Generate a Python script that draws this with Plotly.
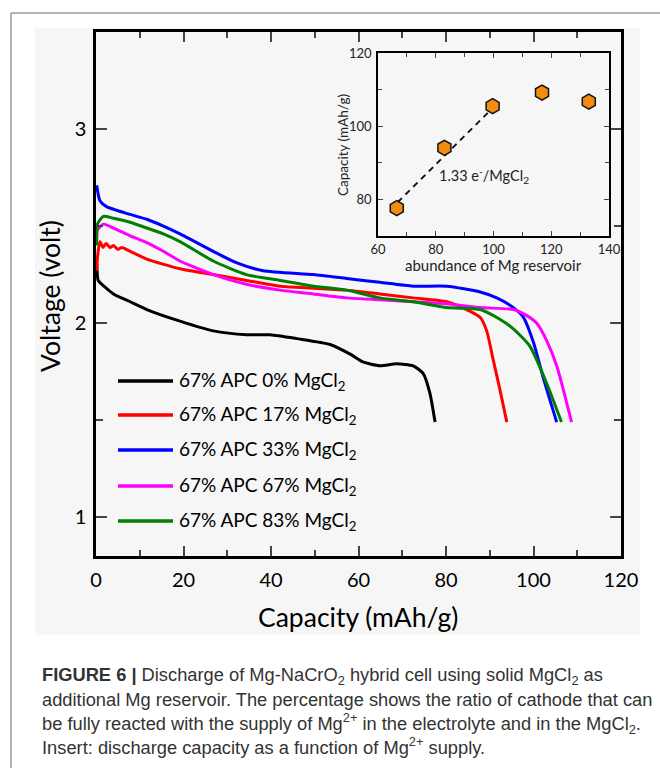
import plotly.graph_objects as go

W, H = 660, 769

# ---------------- data ----------------
series_names = ["67% APC 0% MgCl<sub>2</sub>", "67% APC 17% MgCl<sub>2</sub>",
                "67% APC 33% MgCl<sub>2</sub>", "67% APC 67% MgCl<sub>2</sub>",
                "67% APC 83% MgCl<sub>2</sub>"]
series_colors = ["#000000", "#ff0000", "#0000ff", "#ff00ff", "#008000"]

cap_0 = [0.16, 0.34, 0.5, 4.0, 7.8, 11.6, 19.2, 26.8, 34.4, 39.8, 45.9, 53.5, 58.1, 61.0,
         64.9, 68.7, 72.5, 74.8, 76.3, 77.5]
v_0 = [2.31, 2.24, 2.22, 2.15, 2.11, 2.07, 2.01, 1.96, 1.94, 1.94, 1.92, 1.89, 1.84, 1.80,
       1.78, 1.79, 1.78, 1.74, 1.64, 1.49]

cap_17 = [0.16, 0.34, 0.9, 1.6, 2.3, 3.2, 4.0, 5.0, 5.9, 7.8, 11.6, 19.2, 26.8, 34.4, 42.1,
          49.7, 57.3, 64.9, 72.5, 80.2, 84.7, 87.8, 89.3, 90.8, 92.3, 93.9]
v_17 = [2.27, 2.34, 2.42, 2.39, 2.41, 2.39, 2.40, 2.38, 2.39, 2.37, 2.33, 2.28, 2.25, 2.22, 2.19,
        2.18, 2.17, 2.15, 2.13, 2.11, 2.07, 2.03, 1.96, 1.81, 1.66, 1.49]

cap_33 = [0.16, 0.9, 2.4, 7.8, 11.6, 15.4, 19.2, 26.8, 32.2, 38.2, 49.7, 57.3, 64.9, 72.5,
          80.2, 87.8, 91.6, 95.4, 97.7, 100.0, 102.2, 105.3]
v_33 = [2.71, 2.63, 2.60, 2.56, 2.535, 2.50, 2.46, 2.37, 2.31, 2.27, 2.25, 2.23, 2.21, 2.19,
        2.19, 2.16, 2.13, 2.08, 2.03, 1.90, 1.72, 1.49]

cap_67 = [0.16, 0.34, 1.7, 4.0, 7.8, 11.6, 15.4, 19.2, 26.8, 34.4, 42.1, 49.7, 57.3, 64.9,
          72.5, 80.2, 87.8, 95.4, 98.4, 100.7, 103.0, 105.3, 108.7]
v_67 = [2.43, 2.48, 2.51, 2.49, 2.45, 2.415, 2.37, 2.32, 2.25, 2.20, 2.17, 2.15, 2.13, 2.12,
        2.11, 2.10, 2.08, 2.07, 2.04, 2.00, 1.91, 1.78, 1.49]

cap_83 = [0.16, 0.34, 1.7, 4.0, 7.8, 11.6, 15.4, 19.2, 26.8, 34.4, 42.1, 49.7, 57.3, 64.9,
          72.5, 80.2, 87.8, 92.3, 95.4, 99.2, 103.0, 106.4]
v_83 = [2.40, 2.51, 2.55, 2.54, 2.52, 2.49, 2.46, 2.42, 2.32, 2.25, 2.22, 2.19, 2.17, 2.13,
        2.11, 2.08, 2.07, 2.02, 1.97, 1.88, 1.69, 1.49]

# inset
abundance = [66.5, 83.0, 99.7, 116.8, 133.0]
inset_capacity = [77.6, 94.1, 105.5, 109.2, 106.7]
fit_x = [66.8, 99.5]
fit_y = [79.2, 104.8]

main_xticks = [0, 20, 40, 60, 80, 100, 120]
main_yticks = [1, 2, 3]
inset_xticks = [60, 80, 100, 120, 140]
inset_yticks = [80, 100, 120]

caption_lines = [
    "<b>FIGURE 6 |</b> Discharge of Mg-NaCrO<sub>2</sub> hybrid cell using solid MgCl<sub>2</sub> as",
    "additional Mg reservoir. The percentage shows the ratio of cathode that can",
    "be fully reacted with the supply of Mg<sup>2+</sup> in the electrolyte and in the MgCl<sub>2</sub>.",
    "Insert: discharge capacity as a function of Mg<sup>2+</sup> supply.",
]

# ---------------- helpers ----------------
def px(x):
    return x / W


def py(y):
    return 1 - y / H


FONT = "Lato"

fig = go.Figure()

all_x = [cap_0, cap_17, cap_33, cap_67, cap_83]
all_y = [v_0, v_17, v_33, v_67, v_83]
for name, col, xs, ys in zip(series_names, series_colors, all_x, all_y):
    fig.add_trace(go.Scatter(x=xs, y=ys, mode="lines", name=name,
                             line=dict(color=col, width=3, shape="spline", smoothing=0.6),
                             xaxis="x", yaxis="y", showlegend=False, hoverinfo="skip"))

fig.add_trace(go.Scatter(x=fit_x, y=fit_y, mode="lines",
                         line=dict(color="#111111", width=2, dash="6px,5px"),
                         xaxis="x2", yaxis="y2", showlegend=False, hoverinfo="skip"))
fig.add_trace(go.Scatter(x=abundance, y=inset_capacity, mode="markers",
                         marker=dict(symbol="hexagon", size=15, color="#F28C0F",
                                     line=dict(color="#111111", width=1.5)),
                         xaxis="x2", yaxis="y2", showlegend=False, hoverinfo="skip"))

axis_common = dict(showline=True, linecolor="black", mirror="ticks", ticks="inside",
                   showgrid=False, zeroline=False, automargin=False)

shapes = []
annotations = []

# light grey image panel
shapes.append(dict(type="rect", xref="paper", yref="paper", x0=px(35), x1=px(640),
                   y0=py(635), y1=py(28), fillcolor="#f6f6f6", line=dict(width=0),
                   layer="below"))
# outer page border lines
shapes.append(dict(type="line", xref="paper", yref="paper", x0=px(11), x1=px(11),
                   y0=py(13), y1=py(768), line=dict(color="#999999", width=1.5),
                   layer="above"))
shapes.append(dict(type="line", xref="paper", yref="paper", x0=px(11), x1=px(660),
                   y0=py(13), y1=py(13), line=dict(color="#999999", width=1.5),
                   layer="above"))

# legend (manual)
legend_rows = [381, 415, 450, 486, 521]
for name, col, r in zip(series_names, series_colors, legend_rows):
    shapes.append(dict(type="line", xref="paper", yref="paper", x0=px(118), x1=px(173),
                       y0=py(r), y1=py(r), line=dict(color=col, width=3.5)))
    annotations.append(dict(text=name, xref="paper", yref="paper", x=px(177), y=py(r),
                            xanchor="left", yanchor="middle", showarrow=False,
                            font=dict(family=FONT, size=19, color="black")))

# main axis titles
annotations.append(dict(text="Capacity (mAh/g)", xref="paper", yref="paper",
                        x=px(358), y=py(617), xanchor="center", yanchor="middle",
                        showarrow=False, font=dict(family=FONT, size=26.5, color="black")))
annotations.append(dict(text="Voltage (volt)", xref="paper", yref="paper",
                        x=px(50), y=py(296), xanchor="center", yanchor="middle",
                        textangle=-90, showarrow=False,
                        font=dict(family=FONT, size=26.5, color="black")))

# inset titles
annotations.append(dict(text="abundance of Mg reservoir", xref="paper", yref="paper",
                        x=px(493), y=py(265), xanchor="center", yanchor="middle",
                        showarrow=False, font=dict(family=FONT, size=15, color="#222")))
annotations.append(dict(text="Capacity (mAh/g)", xref="paper", yref="paper",
                        x=px(343), y=py(145), xanchor="center", yanchor="middle",
                        textangle=-90, showarrow=False,
                        font=dict(family=FONT, size=13.5, color="#222")))
annotations.append(dict(text="1.33 e<sup>-</sup>/MgCl<sub>2</sub>", xref="x2", yref="y2",
                        x=80.6, y=86.6, xanchor="left", yanchor="middle",
                        showarrow=False, font=dict(family=FONT, size=14.5, color="#222")))

# caption
cap_y = [676, 699, 723, 746]
for t, yy in zip(caption_lines, cap_y):
    annotations.append(dict(text=t, xref="paper", yref="paper", x=px(40), y=py(yy),
                            xanchor="left", yanchor="middle", showarrow=False,
                            font=dict(family="Liberation Sans Narrow, Arial Narrow, sans-serif",
                                      size=18.3, color="#333333")))

fig.update_layout(
    width=W, height=H,
    margin=dict(l=0, r=0, t=0, b=0, pad=0, autoexpand=False),
    paper_bgcolor="white",
    plot_bgcolor="rgba(0,0,0,0)",
    showlegend=False,
    hovermode=False,
    xaxis=dict(domain=[px(96), px(621)], range=[0, 120], tickvals=main_xticks,
               ticklen=10, tickwidth=2, linewidth=2.5,
               minor=dict(dtick=10, ticklen=6, tickwidth=1.5, ticks="inside"),
               tickfont=dict(family=FONT, size=20, color="black"),
               ticklabelstandoff=4, **axis_common),
    yaxis=dict(domain=[py(556), py(32)], range=[0.8, 3.5], tickvals=main_yticks,
               ticklen=11, tickwidth=2, linewidth=2.5,
               minor=dict(dtick=0.5, tick0=0, ticklen=7, tickwidth=1.5, ticks="inside"),
               tickfont=dict(family=FONT, size=20, color="black"),
               ticklabelstandoff=3, **axis_common),
    xaxis2=dict(domain=[px(378), px(609)], range=[60, 140], tickvals=inset_xticks,
                anchor="y2", ticklen=5, tickwidth=1.2, linewidth=1.5,
                minor=dict(dtick=10, ticklen=4, tickwidth=1, ticks="inside"),
                tickfont=dict(family=FONT, size=13, color="#222"),
                ticklabelstandoff=1, **axis_common),
    yaxis2=dict(domain=[py(236), py(53)], range=[70, 120], tickvals=inset_yticks,
                anchor="x2", ticklen=5, tickwidth=1.2, linewidth=1.5,
                minor=dict(dtick=10, tick0=0, ticklen=4, tickwidth=1, ticks="inside"),
                tickfont=dict(family=FONT, size=13, color="#222"),
                ticklabelstandoff=2, **axis_common),
    shapes=shapes,
    annotations=annotations,
)

fig.write_html("out.html", config={"responsive": False, "displayModeBar": False},
               post_script="document.body.style.margin='0';document.body.style.overflow='hidden';")
